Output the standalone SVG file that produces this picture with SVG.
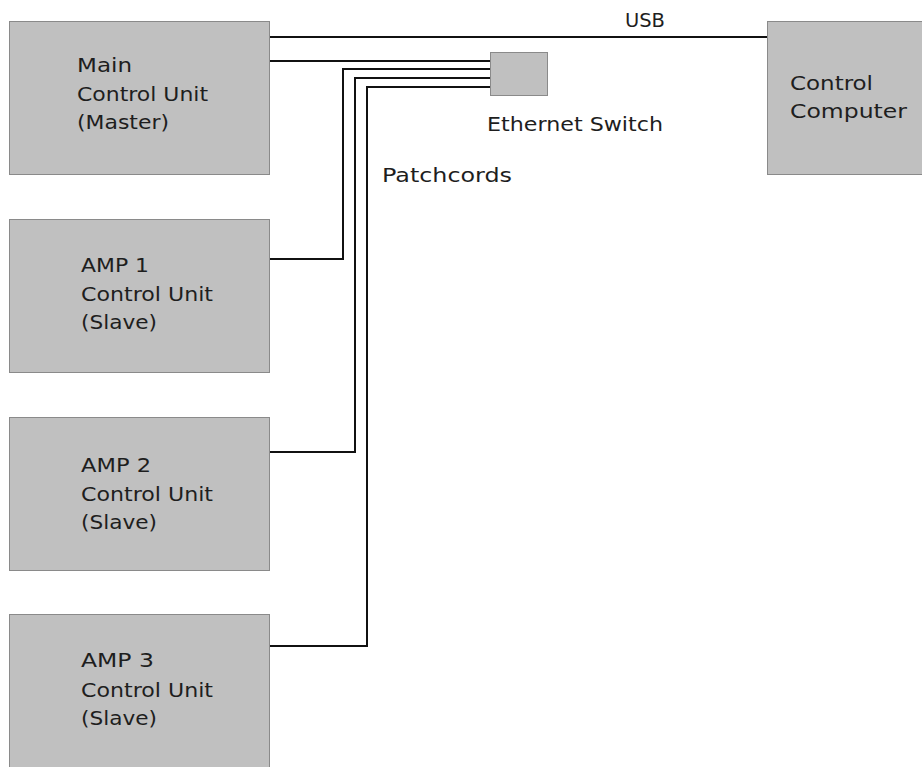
<svg xmlns="http://www.w3.org/2000/svg" width="922" height="767" viewBox="0 0 922 767">
<style>
.box{fill:#c0c0c0;stroke:#8a8a8a;stroke-width:1}
.lbl{font-family:"DejaVu Sans","Liberation Sans",sans-serif;font-size:19px;fill:#1e1e1e}
.wire{fill:none;stroke:#111;stroke-width:2;stroke-linejoin:miter}
</style>
<rect width="922" height="767" fill="#ffffff"/>
<g id="connectors">
<path class="wire" d="M270 37H767"/>
<path class="wire" d="M270 61H490"/>
<path class="wire" d="M270 259H343V69H490"/>
<path class="wire" d="M270 452H355V78H490"/>
<path class="wire" d="M270 646H367V87H490"/>
<text class="lbl" x="625" y="27" textLength="40" lengthAdjust="spacingAndGlyphs">USB</text>
<text class="lbl" x="382" y="182" textLength="130" lengthAdjust="spacingAndGlyphs">Patchcords</text>
</g>
<g id="main">
<rect class="box" x="9.5" y="21.5" width="260" height="153"/>
<text class="lbl" x="77" y="72" textLength="55" lengthAdjust="spacingAndGlyphs">Main</text>
<text class="lbl" x="77" y="101" textLength="131" lengthAdjust="spacingAndGlyphs">Control Unit</text>
<text class="lbl" x="77" y="129" textLength="92" lengthAdjust="spacingAndGlyphs">(Master)</text>
</g>
<g id="switch">
<rect class="box" x="490.5" y="52.5" width="57" height="43"/>
<text class="lbl" x="487" y="131" textLength="176" lengthAdjust="spacingAndGlyphs">Ethernet Switch</text>
</g>
<g id="computer">
<rect class="box" x="767.5" y="21.5" width="160" height="153"/>
<text class="lbl" x="790" y="90" textLength="83" lengthAdjust="spacingAndGlyphs">Control</text>
<text class="lbl" x="790" y="118" textLength="117" lengthAdjust="spacingAndGlyphs">Computer</text>
</g>
<g id="amp1">
<rect class="box" x="9.5" y="219.5" width="260" height="153"/>
<text class="lbl" x="81" y="272" textLength="68" lengthAdjust="spacingAndGlyphs">AMP 1</text>
<text class="lbl" x="81" y="301" textLength="132" lengthAdjust="spacingAndGlyphs">Control Unit</text>
<text class="lbl" x="81" y="329" textLength="76" lengthAdjust="spacingAndGlyphs">(Slave)</text>
</g>
<g id="amp2">
<rect class="box" x="9.5" y="417.5" width="260" height="153"/>
<text class="lbl" x="81" y="472" textLength="70" lengthAdjust="spacingAndGlyphs">AMP 2</text>
<text class="lbl" x="81" y="501" textLength="132" lengthAdjust="spacingAndGlyphs">Control Unit</text>
<text class="lbl" x="81" y="529" textLength="76" lengthAdjust="spacingAndGlyphs">(Slave)</text>
</g>
<g id="amp3">
<rect class="box" x="9.5" y="614.5" width="260" height="160"/>
<text class="lbl" x="81" y="667" textLength="73" lengthAdjust="spacingAndGlyphs">AMP 3</text>
<text class="lbl" x="81" y="697" textLength="132" lengthAdjust="spacingAndGlyphs">Control Unit</text>
<text class="lbl" x="81" y="725" textLength="76" lengthAdjust="spacingAndGlyphs">(Slave)</text>
</g>
</svg>
